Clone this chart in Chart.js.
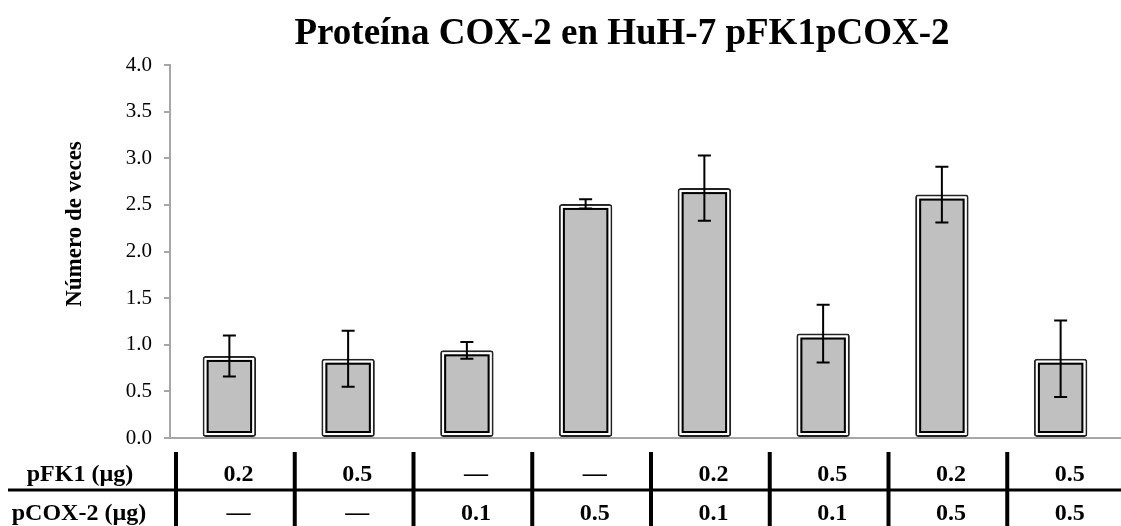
<!DOCTYPE html>
<html>
<head>
<meta charset="utf-8">
<script src="https://cdn.jsdelivr.net/npm/chart.js@4.4.1/dist/chart.umd.min.js"></script>
<style>
html, body { margin: 0; padding: 0; background: #fff; }
</style>
</head>
<body>
<canvas id="coxChart" width="1121" height="526"></canvas>
<script>
// datos
var pFK1 = ['0.2', '0.5', '—', '—', '0.2', '0.5', '0.2', '0.5'];
var pCOX2 = ['—', '—', '0.1', '0.5', '0.1', '0.1', '0.5', '0.5'];
var categorias = pFK1.map(function (v, i) { return v + ' / ' + pCOX2[i]; });
var valores = [0.88, 0.85, 0.94, 2.51, 2.68, 1.12, 2.61, 0.85];
var errores = [0.22, 0.30, 0.09, 0.05, 0.35, 0.31, 0.30, 0.41];
var yMin = 0, yMax = 4, yPaso = 0.5;

var serif = '"Liberation Serif", "Times New Roman", serif';

// borde doble + barras de error
var dobleBorde = {
    id: 'dobleBorde',
    afterDatasetsDraw: function (chart) {
        var ctx = chart.ctx;
        var yScale = chart.scales.y;
        var meta = chart.getDatasetMeta(0);
        ctx.save();
        meta.data.forEach(function (bar, i) {
            var p = bar.getProps(['x', 'y', 'base', 'width'], true);
            var l = p.x - p.width / 2;
            ctx.lineWidth = 2;
            ctx.strokeStyle = '#fff';
            ctx.strokeRect(l + 3, p.y + 3, p.width - 6, p.base - p.y - 6);
            ctx.strokeStyle = '#000';
            ctx.strokeRect(l + 5, p.y + 5, p.width - 10, p.base - p.y - 10);

            var yTop = yScale.getPixelForValue(valores[i] + errores[i]);
            var yBot = yScale.getPixelForValue(valores[i] - errores[i]);
            ctx.beginPath();
            ctx.moveTo(p.x, yTop); ctx.lineTo(p.x, yBot);
            ctx.moveTo(p.x - 6.5, yTop); ctx.lineTo(p.x + 6.5, yTop);
            ctx.moveTo(p.x - 6.5, yBot); ctx.lineTo(p.x + 6.5, yBot);
            ctx.stroke();
        });
        ctx.restore();
    }
};

// título, título del eje y tabla inferior
var textos = {
    id: 'textos',
    afterDraw: function (chart) {
        var ctx = chart.ctx;
        var xScale = chart.scales.x;
        ctx.save();
        ctx.fillStyle = '#000';

        ctx.font = 'bold 37px ' + serif;
        ctx.textAlign = 'center';
        ctx.textBaseline = 'alphabetic';
        ctx.fillText('Proteína COX-2 en HuH-7 pFK1pCOX-2', 622, 44);

        ctx.save();
        ctx.translate(81, 224);
        ctx.rotate(-Math.PI / 2);
        ctx.font = 'bold 23px ' + serif;
        ctx.fillText('Número de veces', 0, 0);
        ctx.restore();

        // tabla
        ctx.font = 'bold 24px ' + serif;
        ctx.fillText('pFK1 (µg)', 80, 481);
        ctx.fillText('pCOX-2 (µg)', 79, 520);

        ctx.strokeStyle = '#000';
        ctx.lineWidth = 3;
        ctx.beginPath();
        ctx.moveTo(8, 490); ctx.lineTo(1121, 490);
        ctx.stroke();

        var paso = xScale.getPixelForValue(1) - xScale.getPixelForValue(0);
        ctx.lineWidth = 4;
        for (var i = 0; i < categorias.length; i++) {
            var cx = xScale.getPixelForValue(i);
            var xl = cx - paso / 2 + 6;
            ctx.beginPath();
            ctx.moveTo(xl, 452); ctx.lineTo(xl, 526);
            ctx.stroke();
            var tx = xl + paso / 2 + 3;
            ctx.fillText(pFK1[i], tx, 481);
            ctx.fillText(pCOX2[i], tx, 520);
        }
        ctx.restore();
    }
};

var ctx = document.getElementById('coxChart').getContext('2d');
var coxChart = new Chart(ctx, {
    type: 'bar',
    data: {
        labels: categorias,
        datasets: [{
            label: 'Número de veces',
            data: valores,
            backgroundColor: '#c0c0c0',
            borderColor: '#222',
            borderWidth: 2,
            borderRadius: 3,
            borderSkipped: false,
            categoryPercentage: 1,
            barPercentage: 0.45
        }]
    },
    options: {
        responsive: false,
        animation: false,
        layout: { padding: { left: 0, right: 1, top: 65, bottom: 88 } },
        plugins: {
            legend: { display: false },
            tooltip: { enabled: false }
        },
        scales: {
            x: {
                grid: { display: false },
                ticks: { display: false },
                border: { display: true, color: '#a6a6a6', width: 2 },
                afterFit: function (scale) { scale.height = 0; }
            },
            y: {
                min: yMin,
                max: yMax,
                afterFit: function (scale) { scale.width = 170; },
                grid: { display: true, drawOnChartArea: false, drawTicks: true, tickLength: 6, color: '#a6a6a6', lineWidth: 2 },
                border: { display: true, color: '#a6a6a6', width: 2 },
                ticks: {
                    stepSize: yPaso,
                    padding: 12,
                    color: '#000',
                    font: { family: serif, size: 21 },
                    callback: function (v) { return v.toFixed(1); }
                }
            }
        }
    },
    plugins: [dobleBorde, textos]
});
</script>
</body>
</html>
